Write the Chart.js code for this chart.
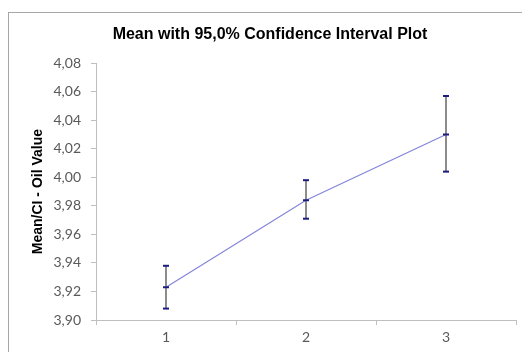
<!DOCTYPE html>
<html>
<head>
<meta charset="utf-8">
<script src="https://cdn.jsdelivr.net/npm/chart.js@4.4.0/dist/chart.umd.min.js"></script>
<style>
  html, body { margin: 0; padding: 0; background: #fff; overflow: hidden; }
  #frame { position: absolute; left: 8px; top: 12px; width: 600px; height: 400px; border: 1px solid #a6a6a6; }
  #wrap { position: absolute; left: 0; top: 0; width: 522px; height: 352px; }
</style>
</head>
<body>
<div id="frame"></div>
<div id="wrap"><canvas id="ciChart" width="522" height="352"></canvas></div>
<script>
var categories = ['1', '2', '3'];
var means = [3.923, 3.984, 4.030];
var upper = [3.938, 3.998, 4.057];
var lower = [3.908, 3.971, 4.004];
var yTicks = [3.90, 3.92, 3.94, 3.96, 3.98, 4.00, 4.02, 4.04, 4.06, 4.08];

// error bars: stem behind the line, caps on top
var errorBars = {
    id: 'errorBars',
    beforeDatasetsDraw: function(chart) {
        var ctx = chart.ctx;
        var x = chart.scales.x, y = chart.scales.y;
        ctx.save();
        ctx.strokeStyle = '#666666';
        ctx.lineWidth = 1.5;
        categories.forEach(function(c, i) {
            var px = x.getPixelForValue(i);
            ctx.beginPath();
            ctx.moveTo(px, y.getPixelForValue(upper[i]));
            ctx.lineTo(px, y.getPixelForValue(lower[i]));
            ctx.stroke();
        });
        ctx.restore();
    },
    afterDatasetsDraw: function(chart) {
        var ctx = chart.ctx;
        var x = chart.scales.x, y = chart.scales.y;
        ctx.save();
        ctx.strokeStyle = '#1c1c80';
        ctx.lineWidth = 2;
        categories.forEach(function(c, i) {
            var px = x.getPixelForValue(i);
            [upper[i], lower[i]].forEach(function(v) {
                var py = y.getPixelForValue(v);
                ctx.beginPath();
                ctx.moveTo(px - 3, py);
                ctx.lineTo(px + 3, py);
                ctx.stroke();
            });
        });
        ctx.restore();
    }
};

new Chart(document.getElementById('ciChart').getContext('2d'), {
    type: 'line',
    data: {
        labels: categories,
        datasets: [{
            label: 'Mean',
            data: means,
            borderColor: '#8585dc',
            borderWidth: 1.2,
            fill: false,
            tension: 0,
            pointStyle: 'line',
            pointRadius: 3,
            pointBorderColor: '#1c1c80',
            pointBorderWidth: 2,
            pointHoverRadius: 3
        }]
    },
    options: {
        responsive: false,
        animation: false,
        layout: { padding: { left: 24, right: 6, top: 0, bottom: 0 } },
        plugins: {
            legend: { display: false },
            tooltip: { enabled: false },
            title: {
                display: true,
                text: 'Mean with 95,0% Confidence Interval Plot',
                color: '#000',
                font: { family: 'Liberation Sans', size: 16, weight: 'bold' },
                padding: { top: 25, bottom: 19 }
            }
        },
        scales: {
            x: {
                type: 'category',
                offset: true,
                grid: { display: true, offset: true, drawOnChartArea: false, tickLength: 5, color: '#bfbfbf' },
                border: { color: '#bfbfbf', width: 1 },
                ticks: { color: '#595959', font: { family: 'Lato', size: 14 }, padding: 4 },
                afterFit: function(scale) { scale.height = 32; }
            },
            y: {
                min: 3.90,
                max: 4.08,
                afterBuildTicks: function(scale) {
                    scale.ticks = yTicks.map(function(v) { return { value: v }; });
                },
                grid: { display: true, drawOnChartArea: false, tickLength: 5, color: '#bfbfbf' },
                border: { color: '#bfbfbf', width: 1 },
                ticks: {
                    color: '#595959',
                    font: { family: 'Lato', size: 14 },
                    padding: 10,
                    callback: function(v) { return v.toFixed(2).replace('.', ','); }
                },
                title: {
                    display: true,
                    text: 'Mean/CI - Oil Value',
                    color: '#000',
                    font: { family: 'Liberation Sans', size: 14, weight: 'bold' },
                    padding: { top: 6, bottom: 0 }
                },
                afterFit: function(scale) { scale.width = 72; }
            }
        }
    },
    plugins: [errorBars]
});
</script>
</body>
</html>
